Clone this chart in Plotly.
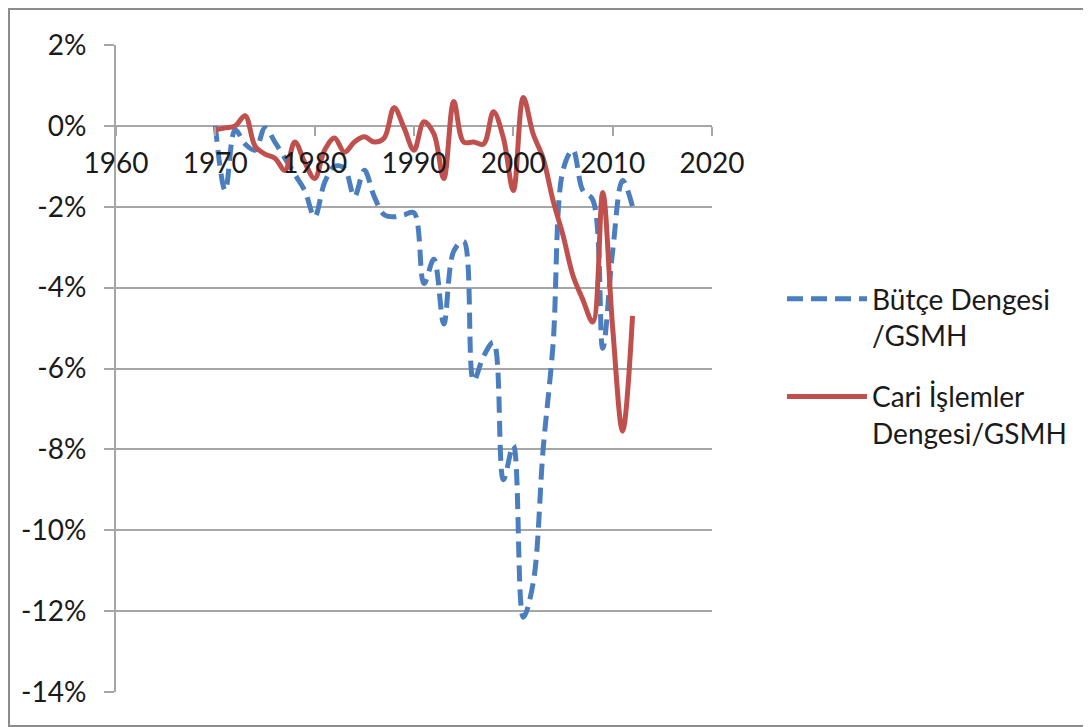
import plotly.graph_objects as go

years = list(range(1970, 2013))

butce = [0.0, -1.6, -0.1, -0.45, -0.6, -0.05, -0.4, -0.8, -1.2, -1.6,
         -2.25, -1.4, -1.0, -1.05, -1.75, -1.1, -1.75, -2.2, -2.25, -2.2,
         -2.15, -3.9, -3.3, -4.9, -3.1, -2.85, -6.3, -5.7, -5.35, -8.75,
         -7.9, -12.15, -11.3, -8.0, -5.4, -1.1, -0.6, -1.6, -1.83, -5.5,
         -3.1, -1.35, -2.0]

cari = [-0.1, -0.05, 0.0, 0.25, -0.5, -0.7, -0.8, -1.1, -0.4, -0.9,
        -1.3, -0.6, -0.3, -0.65, -0.4, -0.27, -0.4, -0.3, 0.45, -0.05,
        -0.6, 0.1, -0.2, -1.3, 0.6, -0.4, -0.4, -0.45, 0.35, -0.3,
        -1.6, 0.7, -0.2, -0.8, -1.85, -2.7, -3.7, -4.3, -4.85, -1.65,
        -5.0, -7.55, -4.7]

x_ticks = [1960, 1970, 1980, 1990, 2000, 2010, 2020]
y_ticks = [2, 0, -2, -4, -6, -8, -10, -12, -14]
y_labels = ["2%", "0%", "-2%", "-4%", "-6%", "-8%", "-10%", "-12%", "-14%"]

names = ["Bütçe Dengesi<br>/GSMH", "Cari İşlemler<br>Dengesi/GSMH"]

FONT = "Lato"
FS = 28
GRID = "#a6a6a6"
OFF = 8  # page body margin
W, H = 1091 - OFF, 727 - OFF
L, T = 116 - OFF, 45 - OFF
PR, PB = 712 - OFF, 692 - OFF
R, B = W - PR, H - PB

fig = go.Figure()
fig.add_trace(go.Scatter(
    x=years, y=butce, mode="lines", name=names[0], legendgroup="a",
    line=dict(color="#4a7ebf", width=5, dash="16px,8px", shape="spline", smoothing=1.0),
))
fig.add_trace(go.Scatter(
    x=years, y=cari, mode="lines", name=names[1], legendgroup="b",
    line=dict(color="#c0504d", width=5, shape="spline", smoothing=1.0),
))

pw = W - L - R
ph = H - T - B
def px_x(p):
    return (p - L) / pw
def px_y(p):
    return (H - B - p) / ph

fig.update_layout(
    width=W, height=H,
    margin=dict(l=L, r=R, t=T, b=B),
    paper_bgcolor="white", plot_bgcolor="white",
    font=dict(family=FONT, size=FS, color="#1a1a1a"),
    showlegend=True,
    legend=dict(
        x=px_x(782 - OFF), y=px_y(274 - OFF), xanchor="left", yanchor="top",
        font=dict(family=FONT, size=FS, color="#1a1a1a"),
        itemwidth=80, tracegroupgap=22, traceorder="grouped", valign="top",
        bgcolor="rgba(0,0,0,0)",
    ),
    xaxis=dict(
        range=[1960, 2020], tickvals=x_ticks, ticktext=[str(v) for v in x_ticks],
        showgrid=False, zeroline=False, showline=False,
        anchor="free", position=14 / 16,
        ticks="outside", ticklen=9, tickwidth=2, tickcolor=GRID,
        ticklabelstandoff=4,
        tickfont=dict(family=FONT, size=FS, color="#1a1a1a"),
    ),
    yaxis=dict(
        range=[-14, 2], tickvals=y_ticks, ticktext=y_labels,
        showgrid=True, gridcolor=GRID, gridwidth=2,
        zeroline=False, showline=True, linecolor=GRID, linewidth=2,
        ticks="outside", ticklen=10, tickwidth=2, tickcolor=GRID,
        ticklabelstandoff=12,
        tickfont=dict(family=FONT, size=FS, color="#1a1a1a"),
    ),
)

# outer chart border
fig.add_shape(type="rect", xref="paper", yref="paper",
              x0=px_x(1), x1=px_x(1085 - OFF), y0=px_y(H - 1), y1=px_y(1),
              line=dict(color="#8c8c8c", width=2), fillcolor="rgba(0,0,0,0)", layer="below")

fig.write_html("out.html")
